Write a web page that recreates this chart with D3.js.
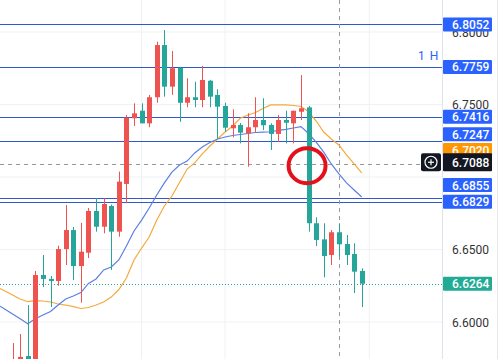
<!DOCTYPE html>
<html><head><meta charset="utf-8">
<script src="https://cdn.jsdelivr.net/npm/d3@7"></script>
<style>html,body{margin:0;padding:0;background:#fff;overflow:hidden}svg{display:block;font-family:Roboto,"Open Sans",sans-serif}</style>
</head><body>
<svg id="chart" width="501" height="359"></svg>
<script>
// ---- data (hourly candles, "1 H") ----
const openP  = [6.5620,6.5660,6.5650,6.5680,6.5766,6.5670,6.6324,6.6297,6.6283,6.6503,6.6634,6.6386,6.6478,6.6766,6.6657,6.6800,6.6623,6.6952,6.7405,6.7457,6.7370,6.7550,6.7910,6.7623,6.7753,6.7512,6.7550,6.7531,6.7664,6.7566,6.7490,6.7336,6.7359,6.7301,6.7343,6.7393,6.7359,6.7297,6.7393,6.7370,6.7450,6.7480,6.6681,6.6570,6.6462,6.6619,6.6538,6.6469,6.6352];
const highP  = [6.5680,6.5720,6.5855,6.5917,6.6117,6.6352,6.6462,6.6317,6.6526,6.6807,6.6655,6.6683,6.6786,6.6855,6.6853,6.6810,6.7037,6.7428,6.7508,6.7508,6.7566,6.7933,6.8014,6.7869,6.7760,6.7681,6.7657,6.7766,6.7670,6.7605,6.7512,6.7467,6.7372,6.7439,6.7550,6.7543,6.7370,6.7428,6.7457,6.7457,6.7703,6.7490,6.6722,6.6681,6.6634,6.6681,6.6600,6.6543,6.6370];
const lowP   = [6.5560,6.5580,6.5600,6.5620,6.5620,6.5630,6.6241,6.6103,6.6250,6.6393,6.6290,6.6133,6.6441,6.6623,6.6612,6.6359,6.6588,6.6819,6.7352,6.7370,6.7343,6.7512,6.7554,6.7566,6.7381,6.7481,6.7481,6.7481,6.7481,6.7267,6.7312,6.7274,6.7232,6.7071,6.7306,6.7324,6.7186,6.7243,6.7232,6.7232,6.7393,6.6623,6.6524,6.6308,6.6393,6.6450,6.6393,6.6200,6.6103];
const closeP = [6.5660,6.5610,6.5720,6.5759,6.5680,6.6324,6.6297,6.6283,6.6503,6.6634,6.6386,6.6485,6.6766,6.6657,6.6814,6.6623,6.6968,6.7409,6.7439,6.7370,6.7550,6.7910,6.7623,6.7750,6.7512,6.7550,6.7531,6.7669,6.7554,6.7485,6.7340,6.7359,6.7306,6.7343,6.7393,6.7357,6.7297,6.7393,6.7374,6.7457,6.7474,6.6681,6.6566,6.6455,6.6619,6.6536,6.6462,6.6347,6.6264];
const maFast = [6.6121,6.6088,6.6055,6.6022,6.5988,6.6023,6.6048,6.6072,6.6117,6.6159,6.6179,6.6203,6.6266,6.6297,6.6359,6.6379,6.6428,6.6524,6.6628,6.6703,6.6786,6.6876,6.6959,6.7034,6.7083,6.7110,6.7166,6.7207,6.7238,6.7262,6.7276,6.7286,6.7293,6.7300,6.7307,6.7310,6.7312,6.7321,6.7328,6.7338,6.7348,6.7300,6.7241,6.7172,6.7090,6.7021,6.6959,6.6910,6.6862];
const maSlow = [6.6238,6.6214,6.6186,6.6159,6.6140,6.6148,6.6145,6.6138,6.6124,6.6117,6.6106,6.6093,6.6100,6.6117,6.6138,6.6172,6.6224,6.6303,6.6428,6.6510,6.6586,6.6703,6.6800,6.6869,6.6962,6.7055,6.7097,6.7159,6.7214,6.7262,6.7310,6.7352,6.7405,6.7428,6.7445,6.7472,6.7497,6.7497,6.7497,6.7493,6.7486,6.7450,6.7386,6.7310,6.7262,6.7221,6.7152,6.7090,6.7028];
const levelValues = [6.8052, 6.7759, 6.7416, 6.7247, 6.6855, 6.6829];
const tickValues  = [6.6000, 6.6500, 6.7000, 6.7500, 6.8000];
const timeGridIdx = [19, 30, 49];
const crosshairPrice = 6.7088;
const crosshairIdx = 45;
const lastPrice = 6.6264;
const maSlowLast = 6.7020;
const intervalLabel = "1 H";

// ---- layout ----
const W = 501, H = 359, plotRight = 442;
const svg = d3.select("#chart");
const x = d3.scaleLinear().domain([0, 48]).range([-2.6, 361.7]);
const y = d3.scaleLinear().domain([6.6, 6.8]).range([322, 32]);
const C_UP = "#ef5350", C_DN = "#26a69a", C_LVL = "#2f58cf", C_LBL = "#2962ff";

svg.append("rect").attr("width", W).attr("height", H).attr("fill", "#fff");
const defs = svg.append("defs");
defs.append("clipPath").attr("id", "plot").append("rect").attr("x", 0).attr("y", 0).attr("width", plotRight).attr("height", H);
const plot = svg.append("g").attr("clip-path", "url(#plot)");

// grid
plot.selectAll("line.hg").data(tickValues).join("line").attr("class", "hg")
  .attr("x1", 0).attr("x2", plotRight).attr("y1", d => y(d)).attr("y2", d => y(d))
  .attr("stroke", "#eff1f5").attr("stroke-width", 1);
plot.selectAll("line.vg").data(timeGridIdx).join("line").attr("class", "vg")
  .attr("x1", d => x(d)).attr("x2", d => x(d)).attr("y1", 0).attr("y2", H)
  .attr("stroke", "#eff1f5").attr("stroke-width", 1);

// level lines
plot.selectAll("line.lvl").data(levelValues).join("line").attr("class", "lvl")
  .attr("x1", 0).attr("x2", plotRight).attr("y1", d => Math.round(y(d)) + 0.5).attr("y2", d => Math.round(y(d)) + 0.5)
  .attr("stroke", C_LVL).attr("stroke-width", 1.2);

// last price dotted
plot.append("line").attr("x1", 0).attr("x2", plotRight)
  .attr("y1", Math.round(y(lastPrice)) + 0.5).attr("y2", Math.round(y(lastPrice)) + 0.5)
  .attr("stroke", C_DN).attr("stroke-width", 1).attr("stroke-dasharray", "1,2");

// crosshair
plot.append("line").attr("x1", 0).attr("x2", 421)
  .attr("y1", Math.round(y(crosshairPrice)) + 0.5).attr("y2", Math.round(y(crosshairPrice)) + 0.5)
  .attr("stroke", "#9598a1").attr("stroke-width", 1).attr("stroke-dasharray", "4,4");
plot.append("line").attr("x1", Math.round(x(crosshairIdx)) + 0.5).attr("x2", Math.round(x(crosshairIdx)) + 0.5)
  .attr("y1", 0).attr("y2", H)
  .attr("stroke", "#9598a1").attr("stroke-width", 1).attr("stroke-dasharray", "4,4");

// moving averages
const line = d3.line().x((d, i) => x(i)).y(d => y(d));
plot.append("path").datum(maSlow).attr("d", line).attr("fill", "none").attr("stroke", "#f5a93b").attr("stroke-width", 1.2);
plot.append("path").datum(maFast).attr("d", line).attr("fill", "none").attr("stroke", "#5b7fe3").attr("stroke-width", 1.2);

// candles
const idx = d3.range(openP.length);
const cg = plot.selectAll("g.c").data(idx).join("g").attr("class", "c");
cg.append("line")
  .attr("x1", i => Math.round(x(i)) + 0.5).attr("x2", i => Math.round(x(i)) + 0.5)
  .attr("y1", i => y(highP[i])).attr("y2", i => y(lowP[i]))
  .attr("stroke", i => closeP[i] >= openP[i] ? C_UP : C_DN).attr("stroke-width", 1);
cg.append("rect")
  .attr("x", i => Math.round(x(i)) - 2).attr("width", 5)
  .attr("y", i => y(Math.max(openP[i], closeP[i])))
  .attr("height", i => Math.max(1, Math.abs(y(openP[i]) - y(closeP[i]))))
  .attr("fill", i => closeP[i] >= openP[i] ? C_UP : C_DN);

// annotation ellipse
plot.append("ellipse").attr("cx", x(41) - 1.5).attr("cy", y(crosshairPrice) + 1.5).attr("rx", 18.5).attr("ry", 17.5)
  .attr("fill", "none").attr("stroke", "#e3111b").attr("stroke-width", 4);

// interval label
svg.append("text").attr("x", 418).attr("y", 60).text(intervalLabel)
  .attr("fill", C_LBL).attr("font-size", 12).attr("letter-spacing", 1);

// price axis
svg.append("line").attr("x1", plotRight + 0.5).attr("x2", plotRight + 0.5).attr("y1", 0).attr("y2", H).attr("stroke", "#e0e3eb");
svg.append("line").attr("x1", 497.5).attr("x2", 497.5).attr("y1", 0).attr("y2", H).attr("stroke", "#e6e8ee").attr("stroke-width", 1);
// tick labels hidden where value tags cover them (as on the platform)
const hiddenTicks = [6.7];
svg.selectAll("text.tick").data(tickValues.filter(d => !hiddenTicks.includes(d))).join("text").attr("class", "tick")
  .attr("x", 452).attr("y", d => y(d) + 4.5).text(d => d.toFixed(4))
  .attr("fill", "#333").attr("font-size", 12);

// value labels (nudged to avoid overlap, like the platform does)
const labelShift = {"6.8052": 0, "6.7759": 0, "6.7416": 0, "6.7247": -7, "6.6855": -13, "6.6829": 0};
let clipN = 0;
function tag(v, fill, txt, dy, h, clip) {
  const cy = y(v) + dy;
  svg.append("rect").attr("x", plotRight + 1).attr("y", cy - h / 2).attr("width", 49).attr("height", h).attr("fill", fill).attr("rx", 1);
  const t = svg.append("text").attr("x", 452).attr("y", cy + 4.5).text(txt).attr("fill", "#fff").attr("font-size", 12).attr("font-weight", 500);
  if (clip) {
    const id = "tc" + (clipN++);
    defs.append("clipPath").attr("id", id).append("rect").attr("x", plotRight).attr("y", clip[0]).attr("width", 60).attr("height", clip[1] - clip[0]);
    t.attr("clip-path", `url(#${id})`);
  }
}
tag(maSlowLast, "#ff9800", maSlowLast.toFixed(4), -24, 14, [y(6.7247) - 7 + 7, y(crosshairPrice) - 2 - 9]);
levelValues.forEach(v => tag(v, C_LBL, v.toFixed(4), labelShift[v.toFixed(4)], 14));
tag(lastPrice, "#22ab94", lastPrice.toFixed(4), 0, 14);
tag(crosshairPrice, "#131722", crosshairPrice.toFixed(4), -2, 18);

// crosshair "+" button
const bx = 431, by = y(crosshairPrice) - 2;
svg.append("rect").attr("x", bx - 10).attr("y", by - 9).attr("width", 20).attr("height", 18).attr("rx", 2).attr("fill", "#131722");
svg.append("circle").attr("cx", bx).attr("cy", by).attr("r", 6).attr("fill", "none").attr("stroke", "#fff").attr("stroke-width", 1.2);
svg.append("line").attr("x1", bx - 3).attr("x2", bx + 3).attr("y1", by).attr("y2", by).attr("stroke", "#fff").attr("stroke-width", 1.2);
svg.append("line").attr("x1", bx).attr("x2", bx).attr("y1", by - 3).attr("y2", by + 3).attr("stroke", "#fff").attr("stroke-width", 1.2);
</script>
</body></html>
